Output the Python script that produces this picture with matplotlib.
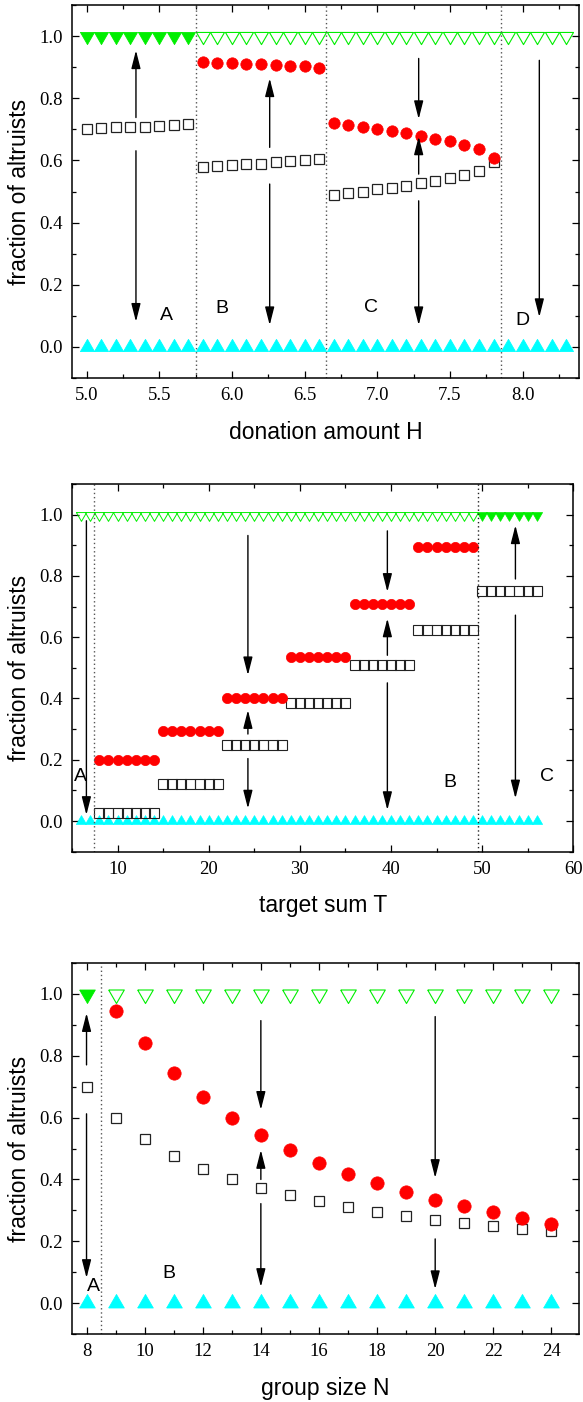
import matplotlib
matplotlib.use("Agg")
import matplotlib.pyplot as plt
from matplotlib.ticker import MultipleLocator, FormatStrFormatter

# ---------------- data ----------------
# Panel 1: donation amount H
H_A = [5.0, 5.1, 5.2, 5.3, 5.4, 5.5, 5.6, 5.7]
H_B = [5.8, 5.9, 6.0, 6.1, 6.2, 6.3, 6.4, 6.5, 6.6]
H_C = [6.7, 6.8, 6.9, 7.0, 7.1, 7.2, 7.3, 7.4, 7.5, 7.6, 7.7, 7.8]
H_D = [7.9, 8.0, 8.1, 8.2, 8.3]
sq_H_A = [0.701, 0.704, 0.706, 0.708, 0.709, 0.711, 0.715, 0.717]
sq_H_B = [0.578, 0.581, 0.584, 0.587, 0.590, 0.594, 0.597, 0.600, 0.605]
sq_H_C = [0.490, 0.495, 0.500, 0.507, 0.511, 0.519, 0.526, 0.534, 0.542, 0.554, 0.567, 0.595]
red_H_B = [0.917, 0.914, 0.913, 0.911, 0.909, 0.907, 0.905, 0.903, 0.898]
red_H_C = [0.720, 0.713, 0.708, 0.702, 0.694, 0.688, 0.679, 0.670, 0.661, 0.651, 0.637, 0.608]
H_div = [5.75, 6.645, 7.85]
H_labels = ["A", "B", "C", "D"]
H_label_x = [5.55, 5.93, 6.96, 8.0]
H_label_y = [0.10, 0.124, 0.127, 0.086]
H_arrow_x = [5.34, 5.34, 6.26, 6.26, 7.285, 7.285, 7.285, 8.115]
H_arrow_from = [0.738, 0.631, 0.642, 0.524, 0.928, 0.556, 0.47, 0.922]
H_arrow_to = [0.954, 0.081, 0.864, 0.07, 0.733, 0.677, 0.07, 0.096]

# Panel 2: target sum T
T_open = [6, 7, 8, 9, 10, 11, 12, 13, 14, 15, 16, 17, 18, 19, 20, 21, 22, 23, 24, 25,
          26, 27, 28, 29, 30, 31, 32, 33, 34, 35, 36, 37, 38, 39, 40, 41, 42, 43, 44,
          45, 46, 47, 48, 49]
T_filled = [50, 51, 52, 53, 54, 55, 56]
T_g1 = [8, 9, 10, 11, 12, 13, 14]
T_g2 = [15, 16, 17, 18, 19, 20, 21]
T_g3 = [22, 23, 24, 25, 26, 27, 28]
T_g4 = [29, 30, 31, 32, 33, 34, 35]
T_g5 = [36, 37, 38, 39, 40, 41, 42]
T_g6 = [43, 44, 45, 46, 47, 48, 49]
T_g7 = [50, 51, 52, 53, 54, 55, 56]
red_T_levels = [0.200, 0.295, 0.400, 0.534, 0.707, 0.894]
sq_T_levels = [0.027, 0.120, 0.249, 0.386, 0.509, 0.623, 0.751]
T_div = [7.4, 49.5]
T_labels = ["A", "B", "C"]
T_label_x = [5.9, 46.5, 57.1]
T_label_y = [0.144, 0.125, 0.147]
T_arrow_x = [6.58, 24.3, 24.3, 24.3, 39.6, 39.6, 39.6, 53.65, 53.65]
T_arrow_from = [0.98, 0.932, 0.284, 0.204, 0.947, 0.541, 0.451, 0.79, 0.672]
T_arrow_to = [0.02, 0.476, 0.362, 0.041, 0.748, 0.661, 0.036, 0.965, 0.074]

# Panel 3: group size N
N_all = [8, 9, 10, 11, 12, 13, 14, 15, 16, 17, 18, 19, 20, 21, 22, 23, 24]
N_red = [9, 10, 11, 12, 13, 14, 15, 16, 17, 18, 19, 20, 21, 22, 23, 24]
red_N = [0.945, 0.840, 0.745, 0.665, 0.598, 0.542, 0.494, 0.453, 0.418, 0.387,
         0.361, 0.335, 0.313, 0.294, 0.275, 0.257]
sq_N = [0.700, 0.598, 0.530, 0.477, 0.434, 0.401, 0.372, 0.351, 0.329, 0.311,
        0.295, 0.281, 0.270, 0.259, 0.251, 0.241, 0.232]
N_filled = [8]
N_open = [9, 10, 11, 12, 13, 14, 15, 16, 17, 18, 19, 20, 21, 22, 23, 24]
N_div = [8.5]
N_labels = ["A", "B"]
N_label_x = [8.23, 10.85]
N_label_y = [0.055, 0.096]
N_arrow_x = [8, 8, 14, 14, 14, 20, 20]
N_arrow_from = [0.770, 0.612, 0.913, 0.40, 0.322, 0.926, 0.208]
N_arrow_to = [0.937, 0.082, 0.625, 0.495, 0.053, 0.405, 0.046]

# ---------------- style ----------------
GREEN = "#00ee00"
CYAN = "#00ffff"
RED = "#ff0000"
SERIF = ["Liberation Serif", "DejaVu Serif"]
SANS = ["Liberation Sans", "DejaVu Sans"]

TRI_UP = [(-1, -0.577), (1, -0.577), (0, 1.155), (-1, -0.577)]
TRI_DN = [(-1, 0.577), (1, 0.577), (0, -1.155), (-1, 0.577)]

# tick labels use the serif family; all other text is given the sans family explicitly
plt.rcParams["font.family"] = SERIF

fig = plt.figure(figsize=(5.83, 14.02), dpi=100)
W, Hh = 583.0, 1402.0
ax1 = fig.add_axes([72 / W, 1 - 378 / Hh, 507.3 / W, 373 / Hh])
ax2 = fig.add_axes([72 / W, 1 - 851.7 / Hh, 501.3 / W, 367.7 / Hh])
ax3 = fig.add_axes([72 / W, 1 - 1334.3 / Hh, 507.3 / W, 371.6 / Hh])


def style_axes(ax, xlim, xmaj, xmin, xfmt, xlabel):
    ax.set_xlim(*xlim)
    ax.set_ylim(-0.1, 1.1)
    ax.xaxis.set_major_locator(MultipleLocator(xmaj))
    ax.xaxis.set_minor_locator(MultipleLocator(xmin))
    ax.xaxis.set_major_formatter(FormatStrFormatter(xfmt))
    ax.yaxis.set_major_locator(MultipleLocator(0.2))
    ax.yaxis.set_minor_locator(MultipleLocator(0.1))
    ax.yaxis.set_major_formatter(FormatStrFormatter("%.1f"))
    ax.tick_params(which="both", direction="in", top=True, right=True, width=0.9)
    ax.tick_params(which="major", length=5, pad=6.5, labelsize=13.5)
    ax.tick_params(which="minor", length=3)
    for s in ax.spines.values():
        s.set_linewidth(1.1)
    ax.set_xlabel(xlabel, fontsize=16.5, labelpad=12, family=SANS)
    ax.set_ylabel("fraction of altruists", fontsize=16.5, labelpad=6, family=SANS)


def arrows(ax, xs, y0s, y1s):
    for x, y0, y1 in zip(xs, y0s, y1s):
        ax.annotate("", xy=(x, y1), xytext=(x, y0),
                    arrowprops=dict(arrowstyle="-|>,head_length=1.1,head_width=0.28",
                                    mutation_scale=10, color="black", lw=1.0,
                                    shrinkA=0, shrinkB=0), zorder=6)


def letters(ax, labs, xs, ys):
    for t, x, y in zip(labs, xs, ys):
        ax.text(x, y, t, fontsize=14, ha="center", va="center", family=SANS)


# ---------- panel 1 ----------
ms_t1 = 16.2 / 1.389
ax1.plot(H_A, [1.0] * len(H_A), ls="none", marker=TRI_DN, ms=ms_t1, mfc=GREEN, mec=GREEN, mew=0.6)
ax1.plot(H_B + H_C + H_D, [1.0] * (len(H_B) + len(H_C) + len(H_D)), ls="none", marker=TRI_DN,
         ms=ms_t1, mfc="none", mec=GREEN, mew=0.8)
ax1.plot(H_A + H_B + H_C + H_D, [0.0] * (len(H_A) + len(H_B) + len(H_C) + len(H_D)), ls="none",
         marker=TRI_UP, ms=ms_t1, mfc=CYAN, mec=CYAN, mew=0.6)
for xs, ys in [(H_A, sq_H_A), (H_B, sq_H_B), (H_C, sq_H_C)]:
    ax1.plot(xs, ys, ls="none", marker="s", ms=7.2, mfc="none", mec="#222222", mew=0.9)
for xs, ys in [(H_B, red_H_B), (H_C, red_H_C)]:
    ax1.plot(xs, ys, ls="none", marker="o", ms=8.2, mfc=RED, mec=RED, mew=0.5)
for d in H_div:
    ax1.axvline(d, color="#555555", lw=1.0, ls=(0, (1, 2)))
arrows(ax1, H_arrow_x, H_arrow_from, H_arrow_to)
letters(ax1, H_labels, H_label_x, H_label_y)
style_axes(ax1, (4.9, 8.39), 0.5, 0.25, "%.1f", "donation amount H")

# ---------- panel 2 ----------
ms_t2 = 10.2 / 0.866 / 1.389
ax2.plot(T_open, [1.0] * len(T_open), ls="none", marker=TRI_DN, ms=ms_t2, mfc="none", mec=GREEN, mew=0.7)
ax2.plot(T_filled, [1.0] * len(T_filled), ls="none", marker=TRI_DN, ms=ms_t2, mfc=GREEN, mec=GREEN, mew=0.5)
ax2.plot(T_open + T_filled, [0.0] * (len(T_open) + len(T_filled)), ls="none", marker=TRI_UP,
         ms=ms_t2, mfc=CYAN, mec=CYAN, mew=0.5)
groups = [T_g1, T_g2, T_g3, T_g4, T_g5, T_g6, T_g7]
for g, lev in zip(groups, sq_T_levels):
    ax2.plot(g, [lev] * len(g), ls="none", marker="s", ms=6.5, mfc="none", mec="#222222", mew=0.8)
for g, lev in zip(groups[:6], red_T_levels):
    ax2.plot(g, [lev] * len(g), ls="none", marker="o", ms=7.4, mfc=RED, mec=RED, mew=0.5)
for d in T_div:
    ax2.axvline(d, color="#555555" if d < 20 else "#222222", lw=1.0, ls=(0, (1, 2)))
arrows(ax2, T_arrow_x, T_arrow_from, T_arrow_to)
letters(ax2, T_labels, T_label_x, T_label_y)
style_axes(ax2, (5, 60), 10, 5, "%d", "target sum T")

# ---------- panel 3 ----------
ms_t3 = 15.6 / 0.866 / 1.389
ax3.plot(N_filled, [1.0], ls="none", marker=TRI_DN, ms=ms_t3, mfc=GREEN, mec=GREEN, mew=0.6)
ax3.plot(N_open, [1.0] * len(N_open), ls="none", marker=TRI_DN, ms=ms_t3, mfc="none", mec=GREEN, mew=0.8)
ax3.plot(N_all, [0.0] * len(N_all), ls="none", marker=TRI_UP, ms=ms_t3, mfc=CYAN, mec=CYAN, mew=0.6)
ax3.plot(N_all, sq_N, ls="none", marker="s", ms=7.8, mfc="none", mec="#222222", mew=0.9)
ax3.plot(N_red, red_N, ls="none", marker="o", ms=9.6, mfc=RED, mec=RED, mew=0.5)
for d in N_div:
    ax3.axvline(d, color="#555555", lw=1.0, ls=(0, (1, 2)))
arrows(ax3, N_arrow_x, N_arrow_from, N_arrow_to)
letters(ax3, N_labels, N_label_x, N_label_y)
style_axes(ax3, (7.5, 24.96), 2, 1, "%d", "group size N")

fig.savefig("out.png", dpi=100)
